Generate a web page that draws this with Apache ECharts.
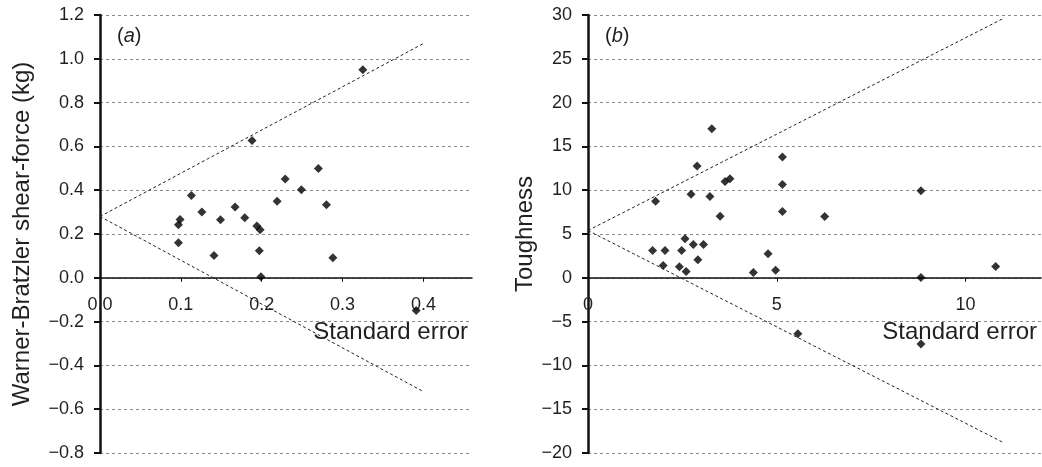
<!DOCTYPE html>
<html>
<head>
<meta charset="utf-8">
<script src="https://cdn.jsdelivr.net/npm/echarts@6/dist/echarts.min.js"></script>
<style>
  html, body { margin: 0; padding: 0; background: #fff; }
  #chart { width: 1042px; height: 467px; }
</style>
</head>
<body>
<div id="chart"></div>
<script>
// ---- Panel (a): Warner-Bratzler shear-force vs standard error ----
const panelA_se   = [0.097, 0.099, 0.097, 0.113, 0.126, 0.141, 0.149, 0.167, 0.179, 0.188, 0.194, 0.198, 0.197, 0.199, 0.219, 0.229, 0.249, 0.270, 0.280, 0.288, 0.325, 0.391];
const panelA_wbsf = [0.242, 0.266, 0.160, 0.376, 0.301, 0.102, 0.265, 0.323, 0.274, 0.627, 0.236, 0.219, 0.123, 0.005, 0.349, 0.451, 0.402, 0.499, 0.333, 0.091, 0.950, -0.149];
const panelA_funnelSE    = [0, 0.4];
const panelA_funnelUpper = [0.28, 1.07];
const panelA_funnelLower = [0.28, -0.52];
const panelA_xTicks = [0, 0.1, 0.2, 0.3, 0.4];
const panelA_yRange = [-0.8, 1.2];

// ---- Panel (b): Toughness vs standard error ----
const panelB_se    = [1.71, 1.79, 1.99, 2.04, 2.42, 2.48, 2.57, 2.60, 2.73, 2.79, 2.89, 2.91, 3.06, 3.23, 3.28, 3.50, 3.63, 3.76, 4.38, 4.77, 4.97, 5.15, 5.15, 5.15, 5.56, 6.27, 8.82, 8.82, 8.82, 10.80];
const panelB_tough = [3.12, 8.74, 1.41, 3.12, 1.25, 3.12, 4.45, 0.72, 9.54, 3.80, 12.77, 2.05, 3.80, 9.27, 17.02, 7.03, 11.0, 11.3, 0.61, 2.74, 0.87, 13.79, 10.64, 7.56, -6.38, 6.99, 9.95, 0.04, -7.56, 1.29];
const panelB_funnelSE    = [0, 11];
const panelB_funnelUpper = [5.4, 29.6];
const panelB_funnelLower = [5.4, -18.8];
const panelB_xTicks = [0, 5, 10];
const panelB_yRange = [-20, 30];

const pairs = (xs, ys) => xs.map((x, i) => [x, ys[i]]);
const FONT = 'Liberation Sans, Arial, Helvetica, sans-serif';
const TXT = '#231f20';
const minus = s => String(s).replace('-', '\u2212');
const GRID_H = 438;
// move the x axis up so that it crosses the y axis at value 0
const zeroOffset = r => -((0 - r[0]) / (r[1] - r[0])) * GRID_H;

function xAxisCfg(gridIndex, max, ticks, decimals, yRange) {
  return {
    gridIndex, type: 'value', min: 0, max: max, position: 'bottom',
    offset: zeroOffset(yRange),
    name: 'Standard error', nameLocation: 'end', nameGap: -4,
    nameTextStyle: { fontFamily: FONT, fontSize: 24, color: TXT, align: 'right', verticalAlign: 'top', padding: [43, 0, 0, 0] },
    axisLine: { onZero: false, lineStyle: { color: '#111', width: 1.5 } },
    axisTick: { show: true, inside: false, length: 4, customValues: ticks, lineStyle: { color: '#111', width: 1 } },
    axisLabel: { customValues: ticks, margin: 18, fontFamily: FONT, fontSize: 18, color: TXT,
      formatter: v => minus(v.toFixed(decimals)) },
    splitLine: { show: false }
  };
}
function yAxisCfg(gridIndex, range, interval, name, gap, decimals) {
  return {
    gridIndex, type: 'value', min: range[0], max: range[1], interval,
    name, nameLocation: 'middle', nameGap: gap,
    nameTextStyle: { fontFamily: FONT, fontSize: 24, color: TXT },
    axisLine: { onZero: false, lineStyle: { color: '#111', width: 2.5 } },
    axisTick: { show: true, inside: false, length: 6, lineStyle: { color: '#111', width: 2 } },
    axisLabel: { margin: 16, fontFamily: FONT, fontSize: 18, color: TXT, padding: [7, 0, 0, 0],
      formatter: v => minus((+v).toFixed(decimals)) },
    splitLine: { show: true, lineStyle: { color: '#8a8a8a', width: 1, type: [3, 3] } }
  };
}
const funnelStyle = { color: '#222', width: 1, type: [3, 2.5] };

const chart = echarts.init(document.getElementById('chart'), null, { renderer: 'canvas' });
chart.setOption({
  backgroundColor: '#fff',
  animation: false,
  title: [
    { text: '({i|a})', left: 112, top: 21, textStyle: { fontFamily: FONT, fontSize: 20, fontWeight: 'normal', color: TXT,
        rich: { i: { fontFamily: FONT, fontSize: 20, fontStyle: 'italic', color: TXT } } } },
    { text: '({i|b})', left: 600, top: 21, textStyle: { fontFamily: FONT, fontSize: 20, fontWeight: 'normal', color: TXT,
        rich: { i: { fontFamily: FONT, fontSize: 20, fontStyle: 'italic', color: TXT } } } }
  ],
  grid: [
    { left: 100, top: 15, width: 372, height: GRID_H },
    { left: 588, top: 15, width: 453, height: GRID_H }
  ],
  xAxis: [
    xAxisCfg(0, 0.46, panelA_xTicks, 1, panelA_yRange),
    xAxisCfg(1, 12, panelB_xTicks, 0, panelB_yRange)
  ],
  yAxis: [
    yAxisCfg(0, panelA_yRange, 0.2, 'Warner-Bratzler shear-force (kg)', 66, 1),
    yAxisCfg(1, panelB_yRange, 5, 'Toughness', 51, 0)
  ],
  series: [
    { type: 'line', xAxisIndex: 0, yAxisIndex: 0, data: pairs(panelA_funnelSE, panelA_funnelUpper), symbol: 'none', lineStyle: funnelStyle, silent: true },
    { type: 'line', xAxisIndex: 0, yAxisIndex: 0, data: pairs(panelA_funnelSE, panelA_funnelLower), symbol: 'none', lineStyle: funnelStyle, silent: true },
    { type: 'scatter', xAxisIndex: 0, yAxisIndex: 0, data: pairs(panelA_se, panelA_wbsf), symbol: 'diamond', symbolSize: 9, itemStyle: { color: '#000' } },
    { type: 'line', xAxisIndex: 1, yAxisIndex: 1, data: pairs(panelB_funnelSE, panelB_funnelUpper), symbol: 'none', lineStyle: funnelStyle, silent: true },
    { type: 'line', xAxisIndex: 1, yAxisIndex: 1, data: pairs(panelB_funnelSE, panelB_funnelLower), symbol: 'none', lineStyle: funnelStyle, silent: true },
    { type: 'scatter', xAxisIndex: 1, yAxisIndex: 1, data: pairs(panelB_se, panelB_tough), symbol: 'diamond', symbolSize: 9, itemStyle: { color: '#000' } }
  ]
});
</script>
</body>
</html>
